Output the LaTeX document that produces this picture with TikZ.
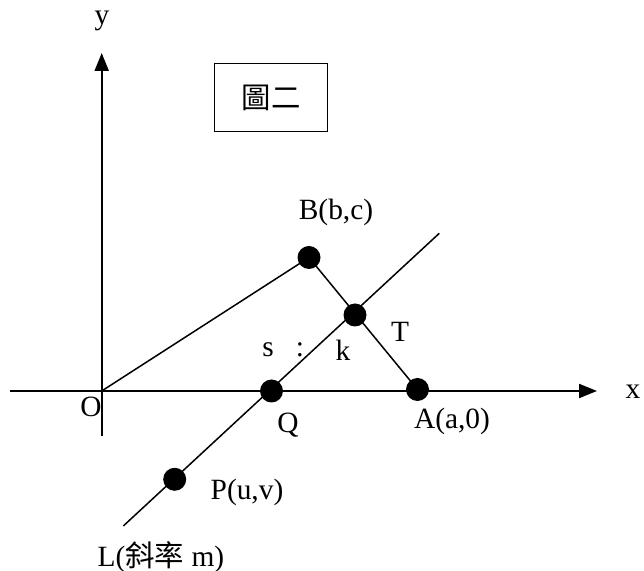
\documentclass[tikz,border=0pt]{standalone}
\usepackage{fontspec}
\setmainfont{Liberation Serif}
\newfontfamily\cjk{Noto Sans CJK TC}
\usetikzlibrary{arrows.meta}
\begin{document}
\begin{tikzpicture}[x=0.5pt,y=-0.5pt,
  dot/.style={circle,fill=black,inner sep=0pt,minimum size=11.5pt},
  lbl/.style={inner sep=0pt,font=\fontsize{14.7}{17}\selectfont},
  axis/.style={line width=1pt,-{Triangle[length=9pt,width=7pt]}},
  seg/.style={line width=0.75pt}]
\useasboundingbox (0,0) rectangle (644,571);
% axes
\coordinate (xs) at (10,391);
\coordinate (xe) at (597,391);
\coordinate (ys) at (101.7,436);
\coordinate (ye) at (101.7,53);
\coordinate (O) at (101.7,391);
\draw[axis] (xs) -- (xe);
\draw[axis] (ys) -- (ye);
% line L ends
\coordinate (Lb) at (123.3,526);
\coordinate (Lt) at (439.3,233.3);
% points
\node[dot] (B) at (309,257.5) {};
\node[dot] (T) at (355,315) {};
\node[dot] (A) at (417.5,389.5) {};
\node[dot] (Q) at (271.5,391) {};
\node[dot] (P) at (174.7,479.3) {};
\draw[seg] (O) -- (B.center) -- (A.center);
\draw[seg] (Lb) -- (Lt);
% box
\node[draw,line width=0.75pt,minimum width=56.7pt,minimum height=34.2pt,inner sep=0pt,lbl] (fig) at (271,97.5) {\cjk 圖二};
% labels
\node[lbl] (ylab) at (102,21) {y};
\node[lbl] (xlab) at (633,392) {x};
\node[lbl,anchor=base] (Olab) at (91,416.5) {O};
\node[lbl] (Blab) at (336,212) {B(b,c)};
\node[lbl] (Tlab) at (400,332) {T};
\node[lbl] (slab) at (268,350) {s};
\node[lbl] (clab) at (300,350) {:};
\node[lbl] (klab) at (343,350) {k};
\node[lbl,anchor=base] (Qlab) at (288,432.5) {Q};
\node[lbl] (Alab) at (452,421) {A(a,0)};
\node[lbl] (Plab) at (247,492) {P(u,v)};
\node[lbl] (Llab) at (161,557) {L(\cjk 斜率\rmfamily{} m)};
\end{tikzpicture}
\end{document}
